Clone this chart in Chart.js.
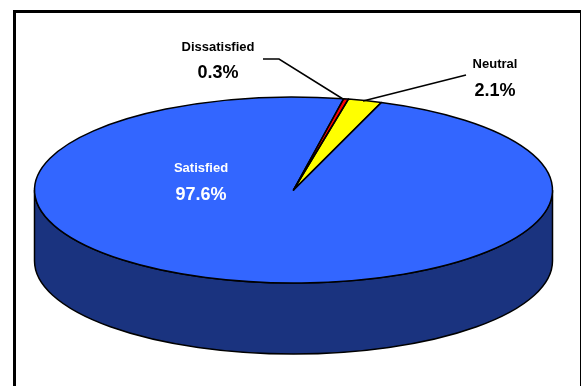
<!DOCTYPE html>
<html>
<head>
<meta charset="utf-8">
<style>
  html, body { margin: 0; padding: 0; background: #fff; overflow: hidden; }
  #wrap { width: 581px; height: 386px; }
</style>
<script src="https://cdn.jsdelivr.net/npm/chart.js@4"></script>
</head>
<body>
<div id="wrap"><canvas id="satisfaction" width="581" height="386"></canvas></div>
<script>
const categories = ['Satisfied', 'Dissatisfied', 'Neutral'];
const shares = [97.6, 0.3, 2.1];
const topColors = ['#3366ff', '#ff0000', '#ffff00'];
const sideColors = ['#1a337f', '#7f0000', '#7f7f00'];

const TILT = 93 / 259;
const DEPTH = 71;
const OUTLINE = 1.5;

// callouts: name centre, value centre, colour, optional leader line
const callouts = {
    Satisfied: { x: 201, nameY: 168, valueY: 195, color: '#fff' },
    Dissatisfied: { x: 218, nameY: 47, valueY: 73, color: '#000', leader: [[263, 59], [279, 59], [343, 99]] },
    Neutral: { x: 495, nameY: 64, valueY: 91, color: '#000', leader: [[466, 75], [363, 101]] }
};

const framePlugin = {
    id: 'frame',
    beforeDraw(chart) {
        const ctx = chart.ctx;
        ctx.save();
        ctx.lineWidth = 3;
        ctx.strokeStyle = '#000';
        ctx.strokeRect(14.5, 11.5, 567, 500);
        ctx.restore();
    }
};

// Chart.js only draws flat pies, so squash the arcs and add the rim by hand
const tiltPlugin = {
    id: 'tilt',
    beforeDatasetsDraw(chart) {
        const ctx = chart.ctx;
        const arcs = chart.getDatasetMeta(0).data;
        arcs.forEach((arc, i) => {
            const start = normalize(arc.startAngle);
            const end = start + (arc.endAngle - arc.startAngle);
            // only the part facing the viewer has a visible rim
            [[start, end], [start - 2 * Math.PI, end - 2 * Math.PI]].forEach(([a, b]) => {
                const from = Math.max(a, 0);
                const to = Math.min(b, Math.PI);
                if (to <= from) return;
                const ry = arc.outerRadius * TILT;
                ctx.save();
                ctx.beginPath();
                ctx.ellipse(arc.x, arc.y, arc.outerRadius, ry, 0, from, to);
                ctx.ellipse(arc.x, arc.y + DEPTH, arc.outerRadius, ry, 0, to, from, true);
                ctx.closePath();
                ctx.fillStyle = sideColors[i];
                ctx.fill();
                ctx.lineWidth = OUTLINE;
                ctx.strokeStyle = '#000';
                ctx.stroke();
                ctx.restore();
            });
        });
        const first = arcs[0];
        ctx.save();
        ctx.translate(first.x, first.y);
        ctx.scale(1, TILT);
        ctx.translate(-first.x, -first.y);
    },
    afterDatasetsDraw(chart) {
        const ctx = chart.ctx;
        ctx.restore();
        chart.getDatasetMeta(0).data.forEach(arc => {
            ctx.save();
            ctx.beginPath();
            ctx.moveTo(arc.x, arc.y);
            ctx.ellipse(arc.x, arc.y, arc.outerRadius, arc.outerRadius * TILT, 0, arc.startAngle, arc.endAngle);
            ctx.closePath();
            ctx.lineWidth = OUTLINE;
            ctx.lineJoin = 'round';
            ctx.strokeStyle = '#000';
            ctx.stroke();
            ctx.restore();
        });
    },
    afterDraw(chart) {
        const ctx = chart.ctx;
        ctx.save();
        ctx.textAlign = 'center';
        ctx.textBaseline = 'middle';
        categories.forEach((name, i) => {
            const c = callouts[name];
            if (c.leader) {
                ctx.beginPath();
                c.leader.forEach(([x, y], j) => j ? ctx.lineTo(x, y) : ctx.moveTo(x, y));
                ctx.lineWidth = 1.5;
                ctx.strokeStyle = '#000';
                ctx.stroke();
            }
            ctx.fillStyle = c.color;
            ctx.font = 'bold 13px "Liberation Sans"';
            ctx.fillText(name, c.x, c.nameY);
            ctx.font = 'bold 18px "Liberation Sans"';
            ctx.fillText(shares[i].toFixed(1) + '%', c.x, c.valueY);
        });
        ctx.restore();
    }
};

function normalize(angle) {
    const full = 2 * Math.PI;
    return ((angle % full) + full) % full;
}

new Chart(document.getElementById('satisfaction'), {
    type: 'pie',
    data: {
        labels: categories,
        datasets: [{
            data: shares,
            backgroundColor: topColors,
            borderWidth: 0,
            radius: 259,
            clip: false
        }]
    },
    options: {
        responsive: false,
        animation: false,
        events: [],
        rotation: 19.8,
        layout: { padding: { left: 6, bottom: 6 } },
        plugins: {
            legend: { display: false },
            tooltip: { enabled: false }
        }
    },
    plugins: [framePlugin, tiltPlugin]
});
</script>
</body>
</html>
